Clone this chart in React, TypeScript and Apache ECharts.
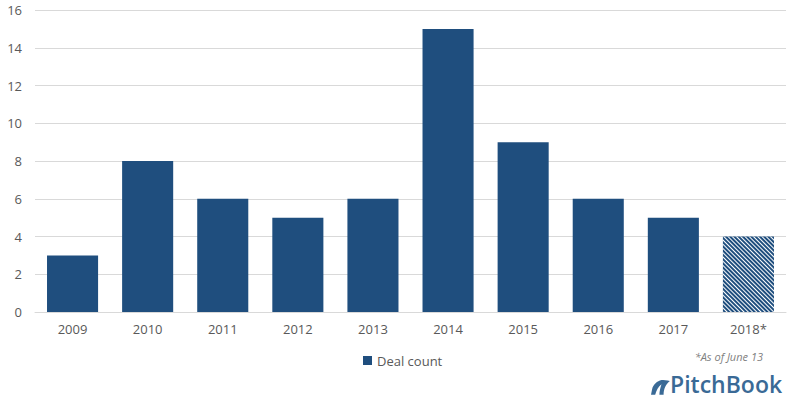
import React, { useEffect, useRef } from "react";
import * as echarts from "echarts";

const categories = ["2009", "2010", "2011", "2012", "2013", "2014", "2015", "2016", "2017", "2018*"];
const dealCounts = [3, 8, 6, 5, 6, 15, 9, 6, 5, 4];
const hatchedIndex = 9;
const seriesName = "Deal count";
const note = "*As of June 13";
const brand = "PitchBook";

const BLUE = "#1f4e7e";
const FONT = "'Open Sans', sans-serif";

const logoPath =
  "M10 0 C6 1 2 4 1 9 L0 14 L4 14 C5 10 7 6 10 4 C9 7 8 11 8 14 L12 14 C12 9 14 4 18 1 C15 0 12 0 10 0 Z";

echarts.graphic.registerShape("logo", echarts.graphic.extendPath(logoPath, {}));

export default function App() {
  const ref = useRef<HTMLDivElement>(null);
  useEffect(() => {
    if (!ref.current) return;
    const chart = echarts.init(ref.current, null, { renderer: "svg" });
    const data = dealCounts.map((v, i) =>
      i === hatchedIndex
        ? {
            value: v,
            itemStyle: {
              color: BLUE,
              decal: {
                symbol: "rect",
                symbolSize: 1,
                color: "#ffffff",
                dashArrayX: [1, 0],
                dashArrayY: [1, 1.1],
                rotation: Math.PI / 4,
              },
            },
          }
        : v
    );
    chart.setOption({
      animation: false,
      backgroundColor: "#ffffff",
      textStyle: { fontFamily: FONT },
      grid: { left: 35, right: 4, top: 10, bottom: 87, containLabel: false },
      legend: {
        data: [seriesName],
        left: 358,
        top: 349,
        itemWidth: 9,
        itemHeight: 9,
        icon: "rect",
        itemGap: 5,
        textStyle: { color: "#595959", fontSize: 13, fontFamily: FONT },
      },
      xAxis: {
        type: "category",
        data: categories,
        axisLine: { show: true, lineStyle: { color: "#d9d9d9" } },
        axisTick: { show: false },
        axisLabel: { color: "#595959", fontSize: 13, margin: 10, fontFamily: FONT },
      },
      yAxis: {
        type: "value",
        min: 0,
        max: 16,
        interval: 2,
        axisLine: { show: false },
        axisTick: { show: false },
        splitLine: { lineStyle: { color: "#d9d9d9" } },
        axisLabel: { color: "#595959", fontSize: 13, margin: 13, fontFamily: FONT },
      },
      series: [
        {
          name: seriesName,
          type: "bar",
          data,
          barCategoryGap: "32%",
          itemStyle: { color: BLUE },
        },
      ],
      graphic: [
        {
          type: "text",
          right: 27,
          top: 351,
          style: {
            text: note,
            fill: "#7f7f7f",
            font: `italic 11px ${FONT}`,
          },
        },
        {
          type: "logo",
          x: 651,
          y: 380,
          scaleX: 1.05,
          scaleY: 1.05,
          style: { fill: "#3a6a96" },
        },
        {
          type: "text",
          x: 670,
          y: 372,
          style: {
            text: brand,
            fill: "#3a6a96",
            font: `600 23px ${FONT}`,
          },
        },
      ],
    });
    return () => chart.dispose();
  }, []);
  return <div ref={ref} style={{ width: 790, height: 399, position: "absolute", left: 0, top: 0 }} />;
}
